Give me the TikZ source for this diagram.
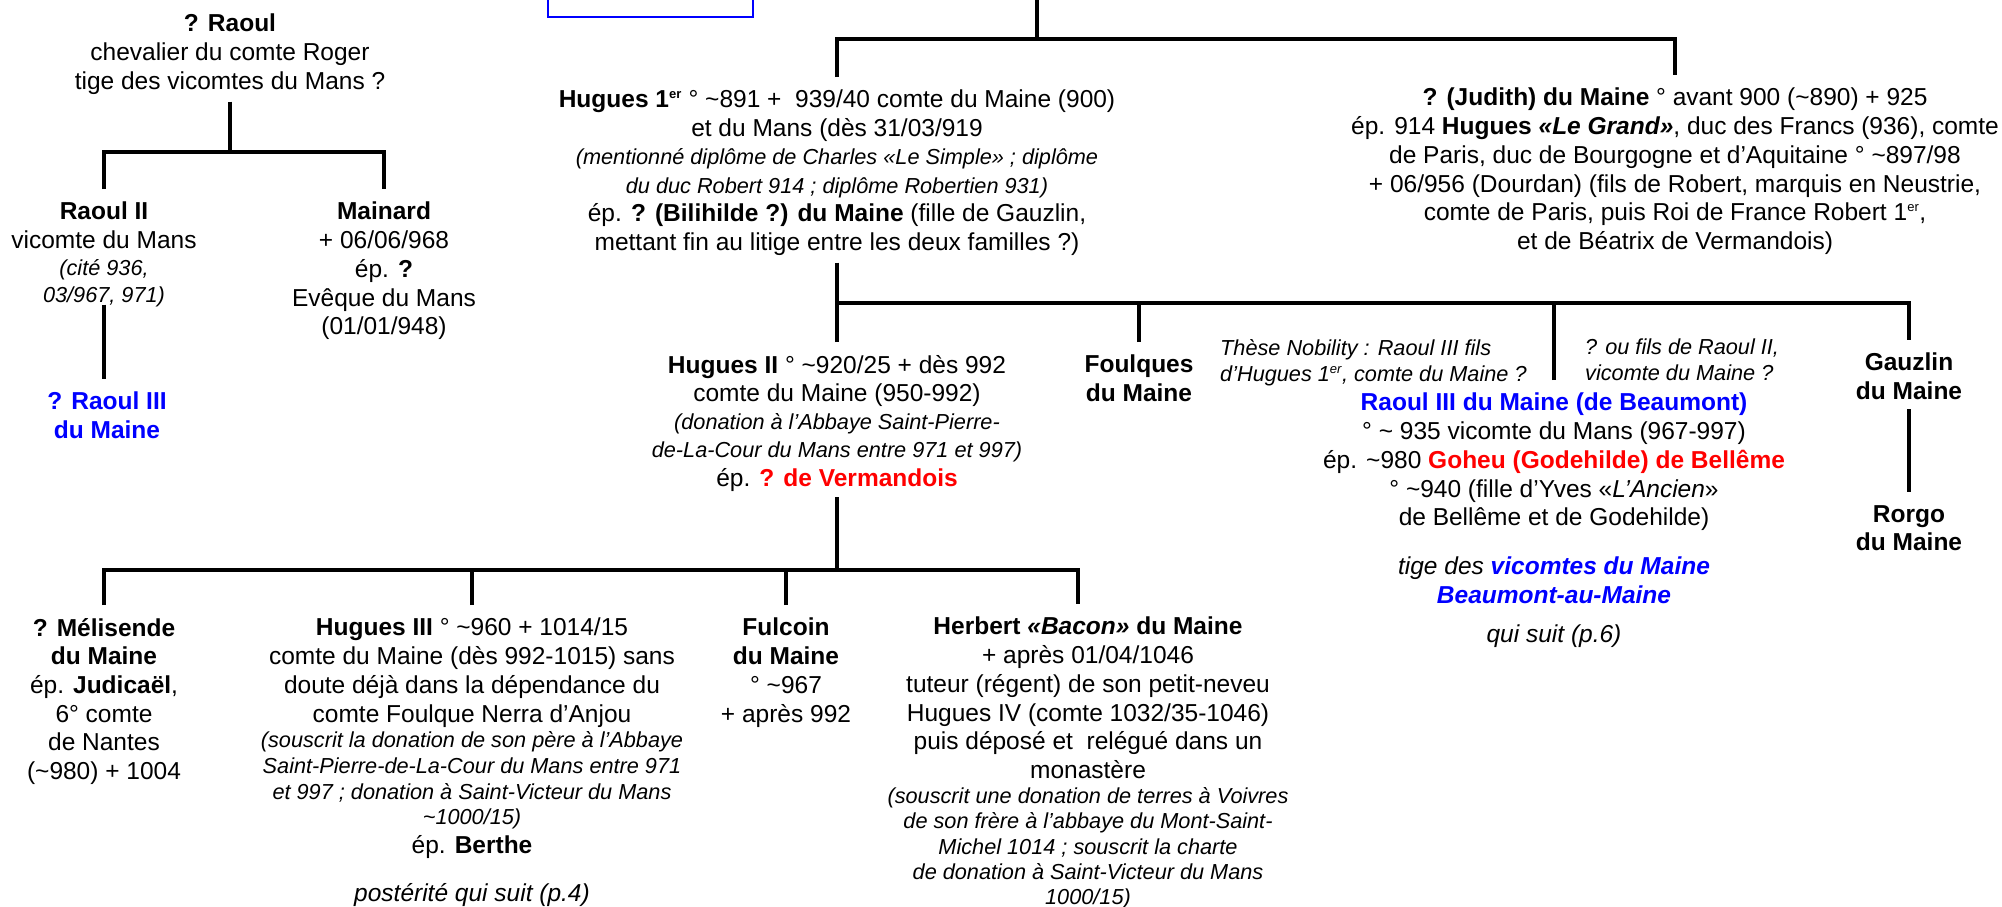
\documentclass[tikz,border=0pt]{standalone}
\usepackage{fontspec}
\setmainfont{Liberation Sans}
\definecolor{bleu}{RGB}{0,0,255}
\definecolor{rouge}{RGB}{255,0,0}
\newcommand{\tld}{\textasciitilde}
\newcommand{\ier}{\textsuperscript{\fontsize{13}{13}\selectfont er}}
\newcommand{\petit}{\fontsize{21.7}{26}\selectfont\itshape}
\begin{document}
\begin{tikzpicture}[x=1pt,y=-1pt,
  pers/.style={align=center,inner xsep=0pt,inner ysep=13pt,anchor=north,font=\fontsize{24.5}{28.7}\selectfont},
  rem/.style={align=left,inner sep=0pt,anchor=north west,font=\petit},
  lien/.style={line width=3.2pt}]
\useasboundingbox (0,0) rectangle (2002,907);
\node[draw=bleu,line width=2.4pt,minimum width=205pt,minimum height=60pt,inner sep=0pt] (titre) at (650.5,-13) {};

\node[pers] (R) at (230,1) {\textbf{? Raoul}\\ chevalier du comte Roger\\ tige des vicomtes du Mans ?};
\node[pers] (R2) at (104,189) {\textbf{Raoul II}\\ vicomte du Mans\\[-2pt] {\petit (cité 936,}\\[-2pt] {\petit 03/967, 971)}};
\node[pers] (M) at (384,189) {\textbf{Mainard}\\ + 06/06/968\\ ép. \textbf{?}\\ Evêque du Mans\\ (01/01/948)};
\node[pers] (R3) at (107,379) {\textbf{\color{bleu}? Raoul III}\\ \textbf{\color{bleu}du Maine}};

\node[pers] (H1) at (837,77) {\textbf{Hugues 1\ier} ° \tld 891 +\ \ 939/40 comte du Maine (900)\\
  et du Mans (dès 31/03/919\\[-1pt]
  {\petit (mentionné diplôme de Charles «Le Simple» ; diplôme}\\
  {\petit du duc Robert 914 ; diplôme Robertien 931)}\\
  ép. \textbf{? (Bilihilde ?) du Maine} (fille de Gauzlin,\\
  mettant fin au litige entre les deux familles ?)};
\node[pers] (J) at (1675,75) {\textbf{? (Judith) du Maine} ° avant 900 (\tld 890) + 925\\
  ép. 914 \textbf{Hugues \textit{«Le Grand»}}, duc des Francs (936), comte\\
  de Paris, duc de Bourgogne et d’Aquitaine ° \tld 897/98\\
  + 06/956 (Dourdan) (fils de Robert, marquis en Neustrie,\\
  comte de Paris, puis Roi de France Robert 1\ier,\\
  et de Béatrix de Vermandois)};

\node[pers] (H2) at (837,342) {\textbf{Hugues II} ° \tld 920/25 + dès 992\\
  comte du Maine (950-992)\\[-1pt]
  {\petit (donation à l’Abbaye Saint-Pierre-}\\[-1pt]
  {\petit de-La-Cour du Mans entre 971 et 997)}\\
  ép. \textbf{\color{rouge}? de Vermandois}};
\node[pers] (F) at (1139,342) {\textbf{Foulques}\\ \textbf{du Maine}};
\node[rem] (N1) at (1220,339) {Thèse Nobility : Raoul III fils\\ d’Hugues 1\ier, comte du Maine ?};
\node[rem] (N2) at (1585,339) {? ou fils de Raoul II,\\ vicomte du Maine ?};
\node[pers] (B) at (1554,380) {\textbf{\color{bleu}Raoul III du Maine (de Beaumont)}\\
  ° \tld\ 935 vicomte du Mans (967-997)\\
  ép. \tld 980 \textbf{\color{rouge}Goheu (Godehilde) de Bellême}\\
  ° \tld 940 (fille d’Yves «\textit{L’Ancien}»\\
  de Bellême et de Godehilde)\\[20pt]
  \textit{tige des \textbf{\color{bleu}vicomtes du Maine}}\\
  \textit{\textbf{\color{bleu}Beaumont-au-Maine}}\\[11pt]
  \textit{qui suit (p.6)}};
\node[pers] (G) at (1909,340) {\textbf{Gauzlin}\\ \textbf{du Maine}};
\node[pers] (Ro) at (1909,492) {\textbf{Rorgo}\\ \textbf{du Maine}};

\node[pers] (Me) at (104,605) {\textbf{? Mélisende}\\ \textbf{du Maine}\\ ép. \textbf{Judicaël},\\ 6° comte\\ de Nantes\\ (\tld 980) + 1004};
\node[pers] (H3) at (472,605) {\textbf{Hugues III} ° \tld 960 + 1014/15\\
  comte du Maine (dès 992-1015) sans\\
  doute déjà dans la dépendance du\\
  comte Foulque Nerra d’Anjou\\[-3pt]
  {\petit (souscrit la donation de son père à l’Abbaye}\\[-3pt]
  {\petit Saint-Pierre-de-La-Cour du Mans entre 971}\\[-3pt]
  {\petit et 997 ; donation à Saint-Victeur du Mans}\\[-3pt]
  {\petit \tld 1000/15)}\\
  ép. \textbf{Berthe}\\[19pt]
  \textit{postérité qui suit (p.4)}};
\node[pers] (Fu) at (786,605) {\textbf{Fulcoin}\\ \textbf{du Maine}\\ ° \tld 967\\ + après 992};
\node[pers] (He) at (1088,604) {\textbf{Herbert \textit{«Bacon»} du Maine}\\
  + après 01/04/1046\\
  tuteur (régent) de son petit-neveu\\
  Hugues IV (comte 1032/35-1046)\\
  puis déposé et\ \ relégué dans un\\
  monastère\\[-3.5pt]
  {\petit (souscrit une donation de terres à Voivres}\\[-3.5pt]
  {\petit de son frère à l’abbaye du Mont-Saint-}\\[-3.5pt]
  {\petit Michel 1014 ; souscrit la charte}\\[-3.5pt]
  {\petit de donation à Saint-Victeur du Mans}\\[-3.5pt]
  {\petit 1000/15)}};

\coordinate (T) at (1037,0);
\coordinate (T1) at (1037,39);
\draw[lien] (T) -- (T1);
\draw[lien] (H1.north) |- (T1) -| (J.north);

\coordinate (A0) at (230,152);
\draw[lien,shorten <=-6pt] (R.south) -- (A0);
\draw[lien] (R2.north) |- (A0) -| (M.north);
\draw[lien,shorten <=-15pt] (R2.south) -- (R2.south |- R3.north);

\coordinate (A1) at (837,303);
\draw[lien,shorten <=-6pt] (H1.south) -- (A1);
\draw[lien] (H2.north) |- (A1) -| (G.north);
\draw[lien] (F.north) -- (F.north |- A1);
\draw[lien] (B.north) -- (B.north |- A1);
\draw[lien,shorten <=-4pt] (G.south) -- (Ro.north);

\coordinate (A2) at (837,570);
\draw[lien,shorten <=-7pt] (H2.south) -- (A2);
\draw[lien] (Me.north) |- (A2) -| ([xshift=-10pt]He.north);
\draw[lien] (H3.north) -- (H3.north |- A2);
\draw[lien] (Fu.north) -- (Fu.north |- A2);
\end{tikzpicture}
\end{document}
